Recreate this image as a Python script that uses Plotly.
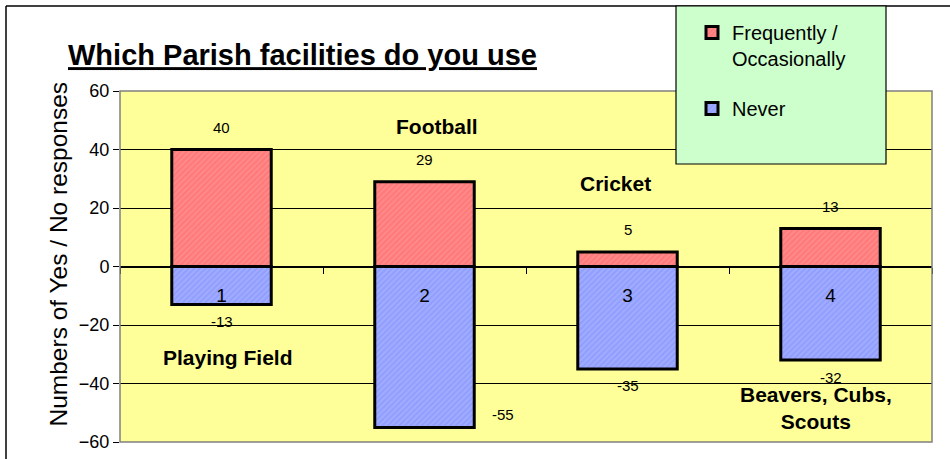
"""Which Parish facilities do you use - stacked yes/no column chart."""

import plotly.graph_objects as go

# data
categories = ["1", "2", "3", "4"]
frequently = [40, 29, 5, 13]
never = [-13, -55, -35, -32]
facility_names = ["Playing Field", "Football", "Cricket", "Beavers, Cubs,<br>Scouts"]
y_ticks = [-60, -40, -20, 0, 20, 40, 60]

FONT = "Liberation Sans, Arial, sans-serif"

# plot area in pixels (950x459 page)
L, R, T, B = 120, 18, 91, 17
PW, PH = 950 - L - R, 459 - T - B


def px_x(p):
    return (p - L) / PW


def px_y(q):
    return (459 - B - q) / PH


fig = go.Figure()

fig.add_trace(
    go.Bar(
        name="Frequently /<br>Occasionally",
        x=categories,
        y=frequently,
        legendgroup="a",
        marker=dict(
            color="#FF7A7A",
            line=dict(color="black", width=3),
            pattern=dict(shape="/", fgcolor="#FFA3A3", size=4, solidity=0.35),
        ),
    )
)
fig.add_trace(
    go.Bar(
        name="Never",
        x=categories,
        y=never,
        legendgroup="b",
        marker=dict(
            color="#929FFF",
            line=dict(color="black", width=3),
            pattern=dict(shape="/", fgcolor="#B8C2FF", size=4, solidity=0.35),
        ),
    )
)

# data labels (x given as category index)
for i in range(len(categories)):
    fig.add_annotation(
        x=i, y=frequently[i], text=str(frequently[i]), showarrow=False,
        yshift=22, font=dict(size=15, color="black"),
    )
    xs, ys = 0, -17
    if i == 1:
        xs, ys = 78, 13
    fig.add_annotation(
        x=i, y=never[i], text=str(never[i]), showarrow=False,
        xshift=xs, yshift=ys, font=dict(size=15, color="black"),
    )

# facility name labels
name_pos = [(0.03, -31), (1.06, 48), (1.94, 28.4), (2.93, -48.3)]
for name, (nx, ny) in zip(facility_names, name_pos):
    fig.add_annotation(
        x=nx, y=ny, text=f"<b>{name}</b>", showarrow=False,
        font=dict(size=21, color="black"), align="center",
    )

# y axis title as rotated text
fig.add_annotation(
    xref="paper", yref="paper", x=px_x(42), y=px_y(254),
    text="Numbers of Yes / No responses", textangle=-90, showarrow=False,
    font=dict(size=24.5, color="black"),
)

# plot area border, outer frame and legend box
fig.add_shape(type="rect", xref="paper", yref="paper", x0=0, x1=1, y0=0, y1=1,
              line=dict(color="#808080", width=1.5), layer="above")
fig.add_shape(type="line", xref="paper", yref="paper",
              x0=px_x(6), x1=px_x(960), y0=px_y(6), y1=px_y(6),
              line=dict(color="black", width=1.5))
fig.add_shape(type="line", xref="paper", yref="paper",
              x0=px_x(6), x1=px_x(6), y0=px_y(6), y1=px_y(470),
              line=dict(color="black", width=1.5))
fig.add_shape(type="rect", xref="paper", yref="paper",
              x0=px_x(676), x1=px_x(886), y0=px_y(164), y1=px_y(6),
              fillcolor="#CCFFCC", line=dict(color="black", width=1.2),
              layer="above")

fig.update_layout(
    width=950,
    height=459,
    margin=dict(l=L, r=R, t=T, b=B, autoexpand=False),
    paper_bgcolor="white",
    plot_bgcolor="#FFFF99",
    font=dict(family=FONT, color="black"),
    barmode="relative",
    bargap=0.51,
    title=dict(
        text="<b><u>Which Parish facilities do you use</u></b>",
        xref="container", yref="container",
        x=68 / 950, y=1 - 55 / 459, xanchor="left", yanchor="middle",
        pad=dict(l=0, r=0, t=0, b=0),
        font=dict(size=29, color="black"),
    ),
    legend=dict(
        x=px_x(692), y=px_y(13), xanchor="left", yanchor="top",
        bgcolor="rgba(0,0,0,0)", borderwidth=0,
        traceorder="grouped", tracegroupgap=21, valign="top",
        font=dict(size=20, color="black"),
    ),
    xaxis=dict(
        type="category",
        range=[-0.5, 3.5],
        anchor="free",
        position=0.5,
        automargin=False,
        showline=True, linecolor="black", linewidth=1,
        ticks="outside", tickson="boundaries", ticklen=6, tickcolor="black",
        tickfont=dict(size=19),
        ticklabelstandoff=12,
        showgrid=False,
        zeroline=False,
    ),
    yaxis=dict(
        range=[-60, 60],
        tickvals=y_ticks,
        automargin=False,
        ticks="outside", ticklen=6, tickcolor="black",
        tickfont=dict(size=18),
        showgrid=True, gridcolor="black", gridwidth=1,
        zeroline=True, zerolinecolor="black", zerolinewidth=1,
        showline=False,
    ),
)

fig.write_html(
    "out.html",
    config={"displayModeBar": False},
    post_script="document.body.style.margin='0';",
)
